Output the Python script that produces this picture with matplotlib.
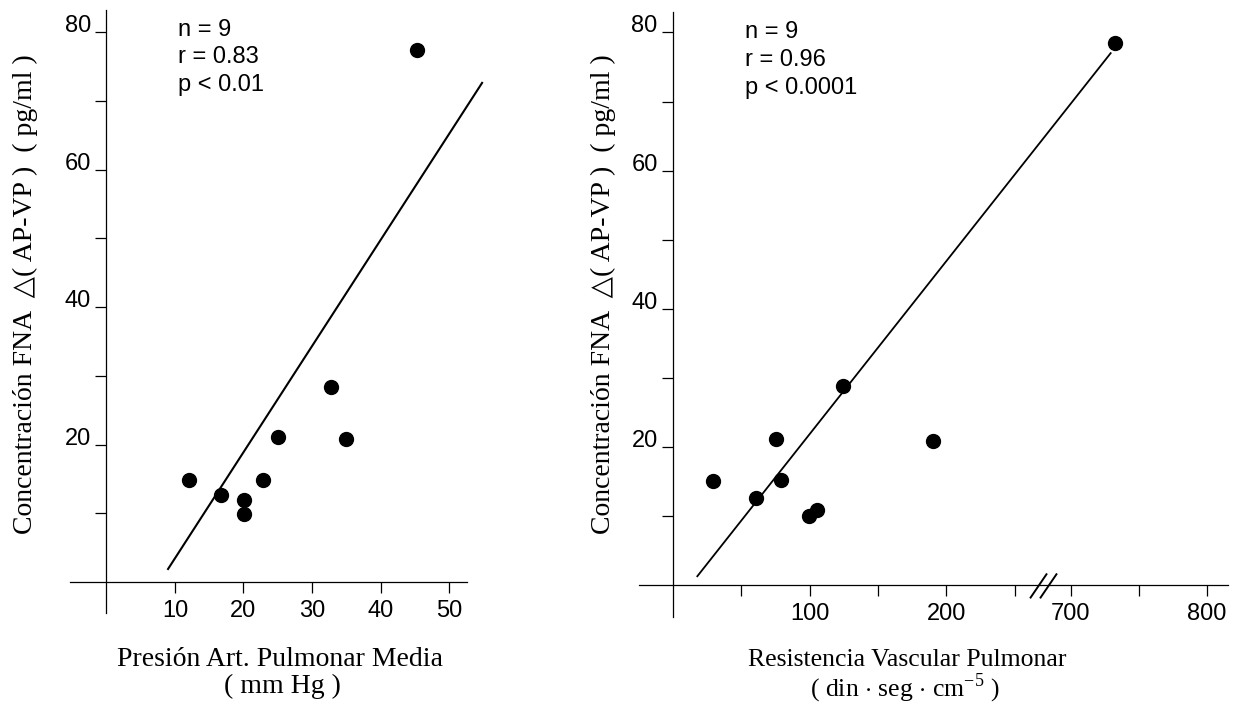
import numpy as np
import matplotlib
matplotlib.use("Agg")
import matplotlib.pyplot as plt
from matplotlib.ticker import FixedLocator, NullFormatter

# --- datos ---
pap_x = [12.0, 16.7, 20.1, 20.1, 22.9, 25.0, 32.8, 34.9, 45.3]
pap_y = [14.8, 12.6, 11.9, 9.9, 14.8, 21.1, 28.4, 20.8, 77.4]
pap_fit_x = [9.0, 54.8]
pap_fit_y = [1.9, 72.6]
pap_stats = ["n = 9", "r = 0.83", "p < 0.01"]

rvp_x = [29, 60.5, 75.4, 78.8, 99.6, 105.2, 124.7, 190.3, 732.6]
rvp_y = [15.1, 12.6, 21.1, 15.2, 10.0, 10.9, 28.9, 20.8, 78.5]
rvp_fit_x = [17.8, 729.4]
rvp_fit_y = [1.3, 77.0]
rvp_stats = ["n = 9", "r = 0.96", "p < 0.0001"]

y_major = [20, 40, 60, 80]
y_minor = [10, 30, 50, 70]
pap_xticks = [10, 20, 30, 40, 50]
rvp_xticks = [100, 200, 700, 800]
rvp_xminor = [50, 150, 250, 750]

ylab = "Concentración FNA  \u25b3( AP-VP )  ( pg/ml )"

# eje roto: los valores >= 700 se desplazan a la izquierda
OFFSET = 409.0


def to_disp(v):
    v = np.asarray(v, dtype=float)
    return np.where(v >= 700, v - OFFSET, v)


SANS = ["Liberation Sans", "DejaVu Sans"]
SERIF = ["Liberation Serif", "DejaVu Serif", "DejaVu Sans"]
plt.rcParams["mathtext.fontset"] = "custom"
plt.rcParams["mathtext.rm"] = "Liberation Serif"

fig = plt.figure(figsize=(12.44, 7.06), dpi=100)
W, H = 1244.0, 706.0


def setup(ax):
    for s in ["top", "right"]:
        ax.spines[s].set_visible(False)
    ax.spines["left"].set_position(("data", 0))
    ax.spines["bottom"].set_position(("data", 0))
    for s in ["left", "bottom"]:
        ax.spines[s].set_linewidth(0.9)
    ax.yaxis.set_major_locator(FixedLocator(y_major))
    ax.yaxis.set_minor_locator(FixedLocator(y_minor))
    ax.yaxis.set_minor_formatter(NullFormatter())
    ax.tick_params(axis="both", which="both", direction="out", width=0.9,
                   length=8, labelsize=17)
    ax.tick_params(axis="y", which="both", pad=3)
    ax.tick_params(axis="x", which="both", pad=5)
    for lb in ax.get_yticklabels() + ax.get_xticklabels():
        lb.set_fontfamily(SANS)
    for lb in ax.get_yticklabels():
        lb.set_verticalalignment("baseline")


# ---------- panel izquierdo ----------
ax1 = fig.add_axes([70 / W, 1 - 613 / H, (467 - 70) / W, (613 - 10) / H])
ax1.set_xlim(-5.3, 52.6)
ax1.set_ylim(-4.5, 83.2)
ax1.xaxis.set_major_locator(FixedLocator(pap_xticks))
setup(ax1)
ax1.plot(pap_fit_x, pap_fit_y, color="black", lw=1.5, clip_on=False)
ax1.plot(pap_x, pap_y, "o", color="black", ms=10, clip_on=False)
for i, t in enumerate(pap_stats):
    ax1.text(10.4, 80.3 - 4.0 * i, t, fontsize=17, family=SANS,
             va="center", ha="left")

# ---------- panel derecho ----------
ax2 = fig.add_axes([639 / W, 1 - 617 / H, (1228 - 639) / W, (617 - 11.7) / H])
ax2.set_xlim(-24.9, 406.3)
ax2.set_ylim(-4.6, 83.0)
ax2.xaxis.set_major_locator(FixedLocator(to_disp(rvp_xticks)))
ax2.xaxis.set_minor_locator(FixedLocator(to_disp(rvp_xminor)))
ax2.set_xticklabels([str(v) for v in rvp_xticks])
ax2.xaxis.set_minor_formatter(NullFormatter())
setup(ax2)
ax2.plot(to_disp(rvp_fit_x), rvp_fit_y, color="black", lw=1.3, clip_on=False)
ax2.plot(to_disp(rvp_x), rvp_y, "o", color="black", ms=10, clip_on=False)
for i, t in enumerate(rvp_stats):
    ax2.text(52.7, 80.0 - 4.0 * i, t, fontsize=17, family=SANS,
             va="center", ha="left")

# marcas de corte //
for x0 in [261.4, 268.7]:
    ax2.plot([x0, x0 + 12.4], [-1.9, 1.7], color="black", lw=1.4,
             clip_on=False, solid_capstyle="butt")

# ---------- etiquetas ----------
for xc in [25 / W, 603 / W]:
    fig.text(xc, 1 - 294 / H, ylab, rotation=90, fontsize=20, family=SERIF,
             ha="center", va="center")

fig.text(280 / W, 1 - 660 / H, "Presión Art. Pulmonar Media", fontsize=20,
         family=SERIF, ha="center", va="center")
fig.text(282 / W, 1 - 686 / H, "( mm Hg )", fontsize=20, family=SERIF,
         ha="center", va="center")
fig.text(907 / W, 1 - 660 / H, "Resistencia Vascular Pulmonar", fontsize=18.5,
         family=SERIF, ha="center", va="center")
fig.text(905 / W, 1 - 688 / H,
         r"( din $\cdot$ seg $\cdot$ cm$^{\mathregular{-5}}$ )",
         fontsize=18.5, family=SERIF, ha="center", va="center")

fig.savefig("out.png", dpi=100, facecolor="white")
